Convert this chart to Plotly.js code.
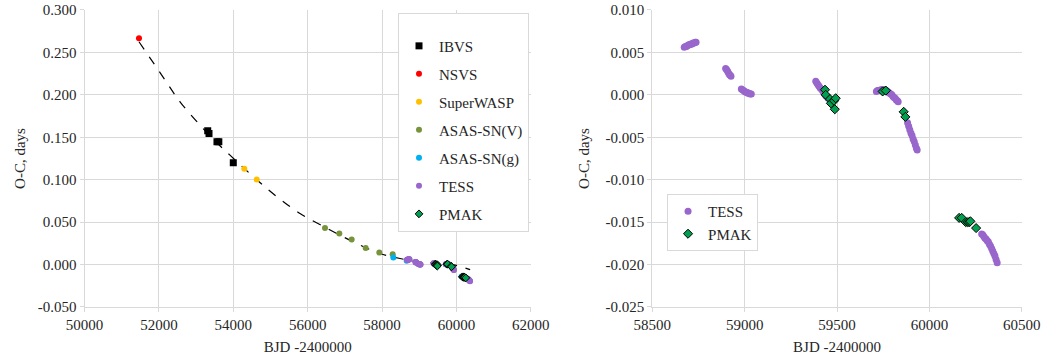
<!DOCTYPE html>
<html>
<head>
<meta charset="utf-8">
<script src="https://cdn.plot.ly/plotly-3.0.1.min.js"></script>
<style>
html,body{margin:0;padding:0;background:#fff;}
#chart{width:1046px;height:363px;}
</style>
</head>
<body>
<div id="chart"></div>
<script>
// ---- Data ----
const ibvsX = [53311, 53346, 53560, 53610, 53999];
const ibvsY = [0.1576, 0.1545, 0.1447, 0.1447, 0.1199];

const nsvsX = [51462];
const nsvsY = [0.2666];

const swaspX = [54295, 54629];
const swaspY = [0.1128, 0.1003];

const asasVX = [56466, 56851, 57183, 57560, 57927, 58286];
const asasVY = [0.0432, 0.0366, 0.0295, 0.0196, 0.0141, 0.0122];

const asasGX = [58303, 58663, 59409, 59772, 60140];
const asasGY = [0.0083, 0.0045, 0.0003, -0.0008, -0.0140];

const tessX = [
  58673, 58679, 58685, 58691, 58697, 58703, 58709, 58715, 58721, 58727, 58733, 58737,
  58897, 58902, 58907, 58912, 58917, 58922, 58926,
  58982, 58988, 58994, 59000, 59006, 59012, 59018, 59024, 59030, 59036,
  59385, 59391, 59397, 59403, 59409, 59415, 59421, 59427, 59433, 59439, 59445, 59451,
  59713, 59719, 59725, 59731, 59737, 59743, 59749, 59755, 59761, 59767, 59773, 59779, 59785, 59791, 59797, 59803, 59809, 59815, 59821, 59827, 59831,
  59882, 59888, 59894, 59900, 59906, 59912, 59918, 59924, 59930, 59934,
  60283, 60289, 60295, 60301, 60307, 60313, 60319, 60325, 60331, 60337, 60343, 60349, 60355, 60361, 60367
];
const tessY = [
  0.0056, 0.0057, 0.0057, 0.0058, 0.0059, 0.0059, 0.0060, 0.0060, 0.0061, 0.0061, 0.0062, 0.0062,
  0.0031, 0.0030, 0.0028, 0.0026, 0.0024, 0.0023, 0.0022,
  0.0007, 0.0006, 0.0005, 0.0004, 0.0003, 0.0003, 0.0002, 0.0002, 0.0001, 0.0001,
  0.0016, 0.0014, 0.0012, 0.0010, 0.0008, 0.0007, 0.0005, 0.0003, 0.0001, -0.0001, -0.0002, -0.0004,
  0.0004, 0.0005, 0.0005, 0.0005, 0.0006, 0.0006, 0.0006, 0.0006, 0.0005, 0.0005, 0.0004, 0.0003, 0.0002, 0.0001, 0.0000, -0.0002, -0.0003, -0.0004, -0.0006, -0.0007, -0.0008,
  -0.0033, -0.0037, -0.0041, -0.0045, -0.0048, -0.0052, -0.0055, -0.0059, -0.0063, -0.0065,
  -0.0164, -0.0165, -0.0167, -0.0169, -0.0170, -0.0172, -0.0173, -0.0176, -0.0178, -0.0181, -0.0184, -0.0187, -0.0190, -0.0194, -0.0198
];

const pmakX = [59435, 59439, 59462, 59467, 59484, 59493, 59488, 59747, 59764, 59861, 59870,
               60161, 60175, 60197, 60208, 60216, 60222, 60253];
const pmakY = [0.0006, 0.0000, -0.0005, -0.0010, -0.0007, -0.0004, -0.0017, 0.0004, 0.0005, -0.0020, -0.0026,
               -0.0145, -0.0145, -0.0150, -0.0150, -0.0150, -0.0149, -0.0157];

const fitX = [51462, 52074, 52566, 53104, 53500, 53910, 54629, 55200, 55794, 56466, 57229, 57945, 58483, 59021, 59648, 60000, 60370];
const fitY = [0.2626, 0.2233, 0.1918, 0.1643, 0.1460, 0.1289, 0.1000, 0.0790, 0.0602, 0.0440, 0.0267, 0.0130, 0.0071, 0.0031, 0.0012, -0.0010, -0.0060];

const leftXTicks = [50000, 52000, 54000, 56000, 58000, 60000, 62000];
const leftXLabels = ["50000", "52000", "54000", "56000", "58000", "60000", "62000"];
const leftYTicks = [-0.05, 0, 0.05, 0.1, 0.15, 0.2, 0.25, 0.3];
const leftYLabels = ["-0.050", "0.000", "0.050", "0.100", "0.150", "0.200", "0.250", "0.300"];
const rightXTicks = [58500, 59000, 59500, 60000, 60500];
const rightXLabels = ["58500", "59000", "59500", "60000", "60500"];
const rightYTicks = [-0.025, -0.02, -0.015, -0.01, -0.005, 0, 0.005, 0.01];
const rightYLabels = ["-0.025", "-0.020", "-0.015", "-0.010", "-0.005", "0.000", "0.005", "0.010"];

// ---- Styles ----
const C_IBVS = '#000000', C_NSVS = '#ff0000', C_SW = '#ffc000', C_AV = '#77933c',
      C_AG = '#00b0f0', C_TESS = '#9966cc', C_PMAK = '#00a050';
const FONT = 'Liberation Serif, DejaVu Serif, serif';
const TXT = '#262626';

const traces = [
  {x: fitX, y: fitY, type: 'scatter', mode: 'lines', line: {color: '#000', dash: 'dash', width: 1.2, shape: 'spline'},
   showlegend: false, hoverinfo: 'skip', xaxis: 'x', yaxis: 'y'},
  {x: ibvsX, y: ibvsY, name: 'IBVS', type: 'scatter', mode: 'markers', legendgroup: 'g1',
   marker: {symbol: 'square', size: 7, color: C_IBVS}, xaxis: 'x', yaxis: 'y'},
  {x: nsvsX, y: nsvsY, name: 'NSVS', type: 'scatter', mode: 'markers', legendgroup: 'g2',
   marker: {symbol: 'circle', size: 6, color: C_NSVS}, xaxis: 'x', yaxis: 'y'},
  {x: swaspX, y: swaspY, name: 'SuperWASP', type: 'scatter', mode: 'markers', legendgroup: 'g3',
   marker: {symbol: 'circle', size: 6, color: C_SW}, xaxis: 'x', yaxis: 'y'},
  {x: asasVX, y: asasVY, name: 'ASAS-SN(V)', type: 'scatter', mode: 'markers', legendgroup: 'g4',
   marker: {symbol: 'circle', size: 6, color: C_AV}, xaxis: 'x', yaxis: 'y'},
  {x: asasGX, y: asasGY, name: 'ASAS-SN(g)', type: 'scatter', mode: 'markers', legendgroup: 'g5',
   marker: {symbol: 'circle', size: 6, color: C_AG}, xaxis: 'x', yaxis: 'y'},
  {x: tessX, y: tessY, name: 'TESS', type: 'scatter', mode: 'markers', legendgroup: 'g6',
   marker: {symbol: 'circle', size: 6, color: C_TESS}, xaxis: 'x', yaxis: 'y'},
  {x: pmakX, y: pmakY, name: 'PMAK', type: 'scatter', mode: 'markers', legendgroup: 'g7',
   marker: {symbol: 'diamond', size: 6, color: C_PMAK, line: {color: '#000', width: 1}}, xaxis: 'x', yaxis: 'y'},
  // right panel
  {x: tessX, y: tessY, name: 'TESS', type: 'scatter', mode: 'markers', legend: 'legend2',
   marker: {symbol: 'circle', size: 7, color: C_TESS}, xaxis: 'x2', yaxis: 'y2'},
  {x: pmakX, y: pmakY, name: 'PMAK', type: 'scatter', mode: 'markers', legend: 'legend2',
   marker: {symbol: 'diamond', size: 7, color: C_PMAK, line: {color: '#000', width: 1}}, xaxis: 'x2', yaxis: 'y2'}
];

function axisBase() {
  return {
    showgrid: true, gridcolor: '#d9d9d9', gridwidth: 1, zeroline: false,
    showline: true, linecolor: '#d9d9d9', linewidth: 1,
    ticks: 'outside', ticklen: 4, tickcolor: '#d9d9d9',
    tickfont: {family: FONT, size: 15, color: TXT}, automargin: false, tickmode: 'array'
  };
}

const yDom = [0.1543, 0.9725];
const layout = {
  width: 1046, height: 363,
  margin: {l: 0, r: 0, t: 0, b: 0},
  paper_bgcolor: '#fff', plot_bgcolor: '#fff',
  font: {family: FONT, size: 15, color: TXT},
  xaxis: Object.assign(axisBase(), {domain: [0.0809, 0.5074], range: [50000, 62000],
    tickvals: leftXTicks, ticktext: leftXLabels, anchor: 'y',
    title: {text: 'BJD -2400000', font: {family: FONT, size: 15, color: TXT}, standoff: 9}}),
  yaxis: Object.assign(axisBase(), {domain: yDom, range: [-0.05, 0.30],
    tickvals: leftYTicks, ticktext: leftYLabels, anchor: 'x',
    title: {text: 'O-C, days', font: {family: FONT, size: 15, color: TXT}, standoff: 8}}),
  xaxis2: Object.assign(axisBase(), {domain: [0.6236, 0.9768], range: [58500, 60500],
    tickvals: rightXTicks, ticktext: rightXLabels, anchor: 'y2',
    title: {text: 'BJD -2400000', font: {family: FONT, size: 15, color: TXT}, standoff: 9}}),
  yaxis2: Object.assign(axisBase(), {domain: yDom, range: [-0.025, 0.010],
    tickvals: rightYTicks, ticktext: rightYLabels, anchor: 'x2',
    title: {text: 'O-C, days', font: {family: FONT, size: 15, color: TXT}, standoff: 12}}),
  legend: {
    x: 0.3805, y: 0.9642, xanchor: 'left', yanchor: 'top',
    bgcolor: '#fff', bordercolor: '#d9d9d9', borderwidth: 1,
    font: {family: FONT, size: 15, color: TXT},
    traceorder: 'grouped', tracegroupgap: 5.5,
    title: {text: '\u00a0', font: {family: FONT, size: 12}}
  },
  legend2: {
    x: 0.6377, y: 0.4656, xanchor: 'left', yanchor: 'top',
    bgcolor: '#fff', bordercolor: '#d9d9d9', borderwidth: 1,
    font: {family: FONT, size: 15, color: TXT},
    traceorder: 'normal'
  },
  showlegend: true
};

Plotly.newPlot('chart', traces, layout, {displayModeBar: false, staticPlot: true});
</script>
</body>
</html>
